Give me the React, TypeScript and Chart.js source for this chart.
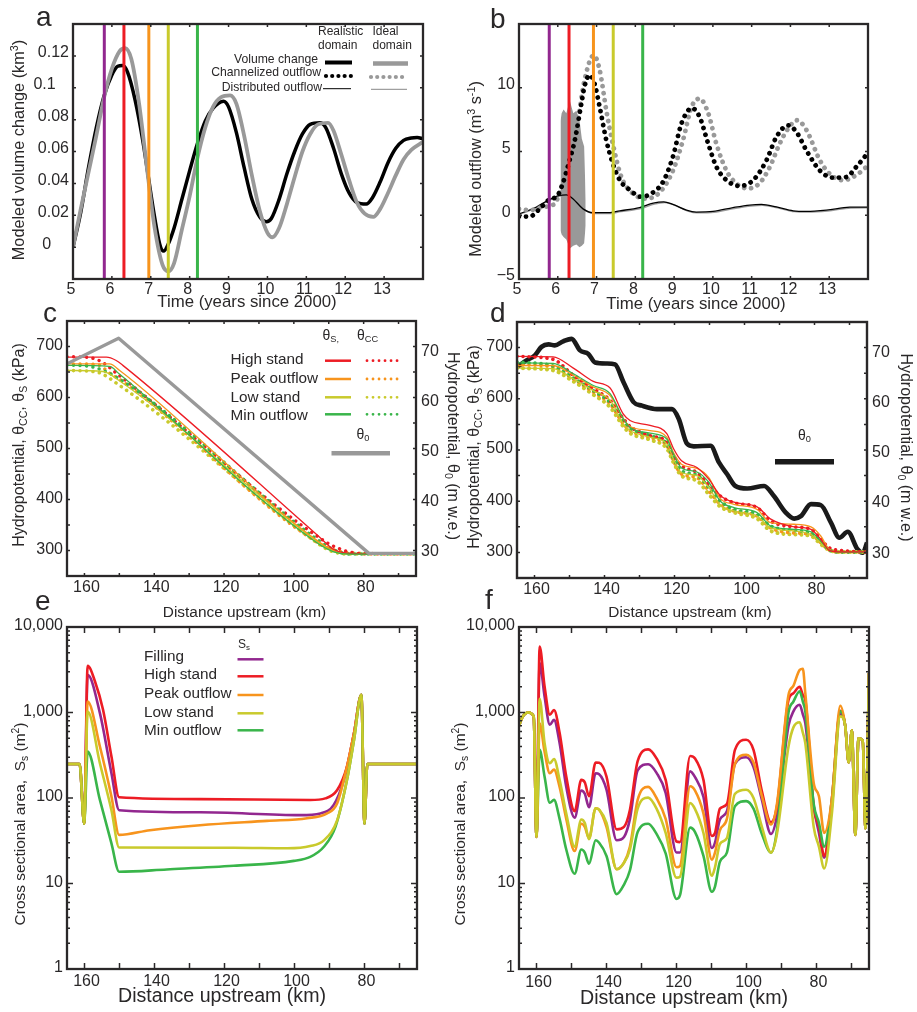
import { useEffect, useRef } from 'react'
import { Chart, registerables } from 'chart.js'

Chart.register(...registerables)

const FONT = "'Liberation Sans', Arial, sans-serif"
const INK = '#2a2829'
const PURPLE = '#92278f'
const RED = '#ed1c24'
const ORANGE = '#f7941d'
const YELLOW = '#c9ca2c'
const GREEN = '#39b54a'
const GREY = '#999999'

type Pt = [number, number]
type Part = { t: string; sub?: boolean; sup?: boolean }

// panel a: modeled volume change (km3) over time
const volRealistic: Pt[] = [[5, 0], [5.2, 0.022], [5.4, 0.05], [5.6, 0.075], [5.8, 0.095], [6, 0.108], [6.15, 0.1135], [6.27, 0.114], [6.4, 0.11], [6.6, 0.092], [6.8, 0.066], [7.07, 0.023], [7.24, 0.001], [7.33, -0.0025], [7.45, 0.002], [7.6, 0.012], [7.8, 0.03], [8, 0.048], [8.2, 0.065], [8.4, 0.079], [8.6, 0.087], [8.87, 0.0915], [9, 0.088], [9.2, 0.072], [9.4, 0.05], [9.6, 0.03], [9.8, 0.019], [9.97, 0.016], [10.1, 0.018], [10.3, 0.03], [10.5, 0.046], [10.7, 0.06], [10.9, 0.071], [11.1, 0.077], [11.35, 0.078], [11.5, 0.075], [11.7, 0.062], [11.9, 0.046], [12.1, 0.034], [12.3, 0.028], [12.54, 0.027], [12.7, 0.031], [12.9, 0.041], [13.1, 0.053], [13.3, 0.062], [13.5, 0.067], [13.7, 0.0685], [13.85, 0.0688], [14, 0.068]]
const volIdeal: Pt[] = [[5, 0], [5.2, 0.024], [5.4, 0.047], [5.6, 0.07], [5.8, 0.094], [6, 0.112], [6.2, 0.123], [6.34, 0.1248], [6.5, 0.118], [6.7, 0.09], [6.9, 0.05], [7.1, 0.012], [7.3, -0.011], [7.45, -0.0152], [7.6, -0.01], [7.8, 0.011], [8, 0.032], [8.2, 0.056], [8.4, 0.075], [8.6, 0.088], [8.8, 0.094], [9.04, 0.0952], [9.2, 0.09], [9.4, 0.07], [9.6, 0.045], [9.8, 0.023], [10, 0.009], [10.13, 0.0062], [10.3, 0.012], [10.5, 0.027], [10.7, 0.044], [10.9, 0.06], [11.1, 0.071], [11.3, 0.077], [11.56, 0.078], [11.7, 0.073], [11.9, 0.058], [12.1, 0.042], [12.3, 0.028], [12.5, 0.021], [12.72, 0.019], [12.9, 0.024], [13.1, 0.034], [13.3, 0.045], [13.5, 0.055], [13.7, 0.061], [14, 0.066]]
const eventTimesA = [5.805, 6.31, 6.95, 7.45, 8.2]
const eventTimesB = [5.78, 6.29, 6.92, 7.43, 8.19]
const eventColors = [PURPLE, RED, ORANGE, YELLOW, GREEN]

// panel b: modeled outflow (m3/s)
const chanRealistic: Pt[] = [[5, -0.1], [5.28, -0.1], [5.53, 0.5], [5.77, 1.2], [6, 1.57], [6.13, 2.5], [6.28, 4.05], [6.44, 5.9], [6.6, 8.6], [6.69, 10.1], [6.82, 11], [6.95, 10.3], [7.08, 8.5], [7.25, 5.9], [7.42, 4.05], [7.6, 2.75], [7.85, 2], [8.15, 1.45], [8.46, 1.8], [8.71, 2.6], [8.97, 4.6], [9.19, 7.2], [9.46, 8.4], [9.66, 7.7], [9.88, 5.6], [10.09, 3.8], [10.35, 2.75], [10.69, 2.3], [11.04, 2.75], [11.38, 4.3], [11.64, 6.15], [11.94, 7.05], [12.15, 6.55], [12.41, 5.1], [12.76, 3.5], [13.1, 2.95], [13.44, 3], [13.7, 3.8], [14, 4.9]]
const chanIdeal: Pt[] = [[5, 0.5], [5.28, 0.4], [5.62, 0.65], [5.92, 0.9], [6.09, 2.2], [6.31, 4.6], [6.48, 6.7], [6.69, 10.6], [6.93, 12.55], [7.08, 11.4], [7.25, 8.25], [7.42, 5.6], [7.64, 3], [7.94, 1.7], [8.28, 1.3], [8.63, 1.8], [8.97, 3.5], [9.23, 5.9], [9.45, 8.5], [9.66, 9.15], [9.88, 8], [10.09, 5.6], [10.35, 3.5], [10.6, 2.5], [10.9, 2.1], [11.2, 2.5], [11.47, 3.8], [11.72, 5.6], [11.94, 6.8], [12.17, 7.45], [12.41, 6.7], [12.76, 4.3], [13.01, 3.25], [13.36, 2.75], [13.7, 3.15], [14, 3.9]]
const distRealistic: Pt[] = [[5, 0.1], [5.45, 0.65], [5.77, 1.2], [6.05, 1.55], [6.22, 1.6], [6.39, 1.3], [6.65, 0.5], [6.91, 0.2], [7.25, 0.2], [7.6, 0.35], [8.11, 0.6], [8.46, 0.95], [8.73, 1.05], [8.97, 0.85], [9.32, 0.4], [9.57, 0.25], [10, 0.3], [10.52, 0.6], [10.95, 0.8], [11.25, 0.85], [11.64, 0.65], [12.07, 0.35], [12.41, 0.3], [12.93, 0.4], [13.53, 0.63], [14, 0.63]]
const distIdeal: Pt[] = [[5, 0.05], [5.45, 0.6], [5.77, 1.15], [6.05, 1.5], [6.25, 1.55], [6.42, 1.25], [6.68, 0.45], [6.94, 0.12], [7.28, 0.12], [7.63, 0.28], [8.14, 0.52], [8.49, 0.88], [8.76, 1], [9, 0.8], [9.35, 0.33], [9.6, 0.18], [10.03, 0.22], [10.55, 0.52], [10.98, 0.72], [11.28, 0.78], [11.67, 0.58], [12.1, 0.28], [12.44, 0.24], [12.96, 0.33], [13.56, 0.57], [14, 0.58]]
const bandTimes = [6.07, 6.1, 6.15, 6.22, 6.31, 6.4, 6.48, 6.56, 6.62, 6.68, 6.72]
const bandUpper = [7.4, 8, 8.3, 8, 9, 8, 8.2, 7.5, 6, 5.4, 1.2]
const bandLower = [-1.2, -1.5, -1.7, -1.9, -2.6, -2.4, -2.3, -2.5, -2.4, -2.2, -0.8]

// panel c: ideal domain hydropotential (kPa, theta0 in m w.e.)
const theta0Ideal: Pt[] = [[165, 67.9], [150.2, 73], [78.5, 30], [65, 30]]
const sHighC: Pt[] = [[165, 679], [153.7, 679], [150.9, 672.5], [149, 663], [92.6, 326], [88.8, 303], [85, 295], [78.5, 293.5], [65, 293.5]]
const sPeakC: Pt[] = [[165, 666], [152.8, 666], [149.9, 653], [92.6, 316], [87.8, 298], [84, 293.5], [65, 293.5]]
const sMinC: Pt[] = [[165, 663], [152.8, 661], [150, 646], [93.6, 316], [88.8, 298], [84, 293], [65, 293]]
const sLowC: Pt[] = [[165, 653], [154.7, 651], [150, 633], [94, 321], [88.8, 298], [84, 293], [65, 293]]
const ccHighC: Pt[] = [[165, 680], [159.5, 679], [155.6, 672], [150, 643], [90.7, 316], [87.8, 306], [84, 297], [79, 293.5], [65, 293.5]]
const ccPeakC: Pt[] = [[165, 666], [156.6, 664.7], [151.8, 643], [150, 636], [92.6, 313], [87.8, 300], [83, 295], [65, 293.5]]
const ccMinC: Pt[] = [[165, 664], [157.5, 659.5], [150.9, 640], [93.6, 323], [88.8, 302], [84, 293], [65, 293]]
const ccLowC: Pt[] = [[165, 653], [156.6, 650], [150, 624], [95.5, 326], [89.7, 300], [84, 293], [65, 293]]

// panel d: realistic domain hydropotential
const theta0Real: Pt[] = [[165, 67.5], [162.3, 68.8], [159.9, 69.8], [158, 71.5], [156, 72], [154.2, 71.8], [151.8, 72.6], [149.4, 73.1], [147, 70.8], [144.6, 70.1], [142.7, 68.4], [139.4, 68.2], [137, 68], [134.6, 64.5], [131.7, 60.5], [129.3, 59.8], [125, 59.1], [120.7, 59.1], [118.8, 57.2], [116.4, 52.2], [114.5, 51.7], [109.7, 51.8], [107.3, 48.5], [105, 46.2], [102.6, 43.8], [99.2, 43.3], [94.4, 43.8], [91.6, 41.8], [88.2, 38.5], [85.8, 37.3], [83.9, 37.8], [81, 40.2], [78.2, 40], [75.3, 36.5], [72.9, 33.5], [70.5, 34.7], [67.7, 31.2], [66.2, 30.5], [65, 32.5]]
const kmD = [165, 154.7, 148.9, 143.2, 138.4, 134.6, 132.7, 127, 122.2, 120.3, 118, 113.6, 110.2, 106.9, 103, 96.4, 92.5, 85.8, 81, 78.2, 75.8, 72.5, 65]
const sHighD = [683, 682, 660, 634, 621, 570, 557.5, 548, 532, 503, 479, 466, 443, 411, 398, 389, 365, 350, 345, 325.5, 304, 301, 301]
const sPeakD = [665, 665, 646, 623, 606.5, 561, 546, 538, 525, 495, 472, 464, 446, 405, 394, 384, 358, 355, 350, 332, 306, 300.6, 300.6]
const sMinD = [670, 669, 649, 626, 610, 561, 544, 533, 521.6, 492, 465, 457, 437, 400, 387.6, 377.8, 351.6, 345, 340, 322, 304.6, 300.6, 300.6]
const sLowD = [660, 659, 639, 616, 597, 551, 538, 525, 512, 482, 456, 450, 427, 392, 381, 371, 348, 342, 335, 319, 304.6, 300.6, 300.6]
const ccHighD = [683, 677, 646, 619.6, 597, 561, 546, 528, 515, 489, 469, 456, 433, 410, 397, 387.6, 361, 350, 345, 325.5, 309, 304, 300.6]
const ccPeakD = [667, 662, 639, 613, 590, 551, 538, 525, 508.5, 479, 453, 446, 420, 394, 381, 371, 348, 338, 335, 319, 304.6, 300.6, 300.6]
const ccMinD = [672, 664, 640.5, 616, 593, 557.5, 542.5, 528, 512, 483.7, 459.5, 451, 426.8, 400.6, 384, 374.5, 351.6, 343, 337, 322, 304.6, 300.6, 300.6]
const ccLowD = [660, 655.5, 634, 608, 583.7, 546, 533, 520, 503, 476, 449.7, 440, 413.7, 389.5, 378, 366, 342, 335, 332, 316, 304.6, 300.6, 300.6]

// panel e: cross sectional area, ideal domain (m2)
const inletE: Pt[] = [[165, 250], [161.4, 250], [160.1, 50]]
const outletE: Pt[] = [[80.9, 1610], [80, 50], [79.2, 250], [65, 250]]
const areaFillE: Pt[] = [[159.1, 2760], [155.6, 982], [152.3, 195], [150.1, 72], [127, 68], [98.3, 63], [92.6, 66], [88.8, 83], [85.9, 163], [83, 573]]
const areaHighE: Pt[] = [[159.1, 3523], [157, 2308], [154.7, 1075], [152.3, 305], [150.1, 102], [127, 97], [95.5, 94.8], [91.2, 99], [87.8, 124], [85, 233], [83, 573]]
const areaPeakE: Pt[] = [[159.1, 1345], [155.6, 400], [152.3, 104], [150.1, 37], [141.3, 42], [127, 48], [107.9, 54], [96.4, 58], [90.7, 66], [87.8, 87], [85, 233], [83, 573]]
const areaLowE: Pt[] = [[159.1, 1027], [155.6, 255], [152.3, 72], [150.1, 26.4], [117.4, 26.2], [102, 25.8], [95.5, 27.4], [91.6, 32], [87.8, 55], [85, 163], [83, 478]]
const areaMinE: Pt[] = [[159.1, 349], [155.6, 95], [152.3, 29.4], [150.1, 13.7], [136.5, 14.6], [117.4, 16.1], [100.2, 18.4], [95.5, 20.5], [91.6, 26.9], [88.3, 46], [85, 163], [83, 478]]

// panel f: cross sectional area, realistic domain (m2)
const kmF = [165, 163.9, 162.4, 160.8, 160, 159.1, 157.7, 156.2, 155, 153.4, 151.5, 149.1, 147.2, 146.2, 145, 143.1, 142.1, 140, 137.1, 135, 133.3, 131.1, 128.1, 125.7, 123.1, 120, 119, 116.1, 114.7, 112.3, 109.9, 109, 107.6, 105.6, 103.3, 100.1, 98, 95.6, 93, 91.3, 88, 86.6, 84.8, 83.9, 83.2, 80.8, 79.3, 77.8, 75.6, 73.2, 71.8, 70.8, 69.9, 68.9, 68, 66.8, 66, 65]
const inletF = [700, 900, 1000, 900, 35]
const outletF = [700, 260, 620, 37, 500, 470, 44, 2900]
const areaHighF = [5900, 2030, 940, 1070, 580, 178, 70, 163, 152, 105, 260, 258, 178, 43, 46, 73, 270, 370, 290, 163, 31, 30.5, 310, 290, 163, 36, 39, 75, 85, 365, 480, 365, 120, 52, 80, 1400, 1680, 2000, 1600, 1400, 80, 46, 21, 97, 1050]
const areaFillF = [3800, 1550, 720, 820, 440, 135, 59, 122, 112, 78, 195, 190, 125, 32, 35, 57, 210, 248, 197, 115, 23, 23, 205, 175, 103, 26, 30, 56, 70, 250, 300, 230, 95, 38, 62, 700, 1030, 1230, 950, 750, 80, 39, 20, 80, 950]
const areaPeakF = [750, 350, 195, 215, 135, 57, 24, 50, 46, 34, 76, 73, 46, 14.7, 17.5, 27, 95, 135, 100, 57, 15.5, 16, 137, 122, 66, 19, 23, 42, 57, 250, 320, 260, 105, 49, 85, 1600, 2050, 3150, 3250, 1680, 150, 105, 39, 97, 1200]
const areaLowF = [1450, 440, 255, 285, 163, 66, 27, 56, 51, 33, 76, 73, 51, 14.7, 17.5, 25, 75, 101, 75, 39, 11.7, 12, 87, 74, 39, 12.3, 15.5, 29, 34, 112, 125, 100, 46, 23, 38, 400, 670, 770, 580, 440, 46, 27, 15, 66, 900]
const areaMinF = [365, 178, 88, 95, 57, 25, 13, 25, 23, 17, 32, 30, 21, 7.5, 9.7, 14.3, 40, 50, 38, 22.5, 6.6, 7.3, 45, 40, 21, 8, 9.2, 18, 23, 80, 92, 75, 38, 23, 42, 1000, 1340, 1770, 1340, 1030, 85, 51, 27, 97, 1030]

// axis ticks and their labels
const timeTicks = [5, 6, 7, 8, 9, 10, 11, 12, 13, 14]
const timeLabels: Record<number, string> = { 5: '5', 6: '6', 7: '7', 8: '8', 9: '9', 10: '10', 11: '11', 12: '12', 13: '13' }
const volTicks = [-0.02, 0, 0.02, 0.04, 0.06, 0.08, 0.1, 0.12, 0.14]
const volLabels: Record<number, string> = { 0: '0    ', 0.02: '0.02', 0.04: '0.04', 0.06: '0.06', 0.08: '0.08', 0.1: '0.1   ', 0.12: '0.12' }
const flowTicks = [-5, 0, 5, 10, 15]
const flowLabels: Record<number, string> = { '-5': '\u22125', 0: '0 ', 5: '5 ', 10: '10' }
const kmTicks = [160, 150, 140, 130, 120, 110, 100, 90, 80, 70]
const kmLabels: Record<number, string> = { 160: '160', 140: '140', 120: '120', 100: '100', 80: '80' }
const kpaTicks = [300, 350, 400, 450, 500, 550, 600, 650, 700]
const kpaLabels: Record<number, string> = { 300: '300', 400: '400', 500: '500', 600: '600', 700: '700' }
const mweTicks = [30, 40, 50, 60, 70]
const areaTicks = [1, 2, 3, 4, 5, 6, 7, 8, 9, 10, 20, 30, 40, 50, 60, 70, 80, 90, 100, 200, 300, 400, 500, 600, 700, 800, 900, 1000, 2000, 3000, 4000, 5000, 6000, 7000, 8000, 9000, 10000]
const areaLabels: Record<number, string> = { 1: '1', 10: '10', 100: '100', 1000: '1,000', 10000: '10,000' }

const pairs = (xs: number[], ys: number[]): Pt[] => ys.map((y, i) => [xs[i], y])

const solid = (data: Pt[], color: string, width: number, extra = {}) => ({
  data, borderColor: color, borderWidth: width, showLine: true, pointRadius: 0,
  cubicInterpolationMode: 'monotone', borderJoinStyle: 'round', ...extra,
})
const dotted = (data: Pt[], color: string, width: number, gap: number) =>
  solid(data, color, width, { borderDash: [0.01, gap], borderCapStyle: 'round' })
const eventLines = (times: number[], lo: number, hi: number) =>
  times.map((t, i) => solid([[t, lo], [t, hi]], eventColors[i], 3, { cubicInterpolationMode: 'default' }))

interface Note { parts: string | Part[]; x: number; y: number; size: number; rot?: number; align?: CanvasTextAlign; base?: CanvasTextBaseline }
interface Swatch { x1: number; x2: number; y: number; color: string; width: number; dots?: number }

function drawNote(ctx: CanvasRenderingContext2D, n: Note) {
  const parts: Part[] = typeof n.parts === 'string' ? [{ t: n.parts }] : n.parts
  const fontOf = (p: Part) => `${p.sub || p.sup ? n.size * 0.66 : n.size}px ${FONT}`
  let total = 0
  parts.forEach((p) => { ctx.font = fontOf(p); total += ctx.measureText(p.t).width })
  ctx.save()
  ctx.translate(n.x, n.y)
  if (n.rot) ctx.rotate(n.rot)
  ctx.fillStyle = INK
  ctx.textAlign = 'left'
  ctx.textBaseline = n.base ?? 'middle'
  let cur = n.align === 'left' ? 0 : n.align === 'right' ? -total : -total / 2
  parts.forEach((p) => {
    ctx.font = fontOf(p)
    const dy = p.sub ? n.size * 0.24 : p.sup ? -n.size * 0.3 : 0
    ctx.fillText(p.t, cur, dy)
    cur += ctx.measureText(p.t).width
  })
  ctx.restore()
}

interface PanelDef {
  box: [number, number, number, number]
  x: { min: number; max: number; reverse?: boolean; ticks: number[]; labels: Record<number, string>; offset: number; pad: number }
  y: { type?: string; min: number; max: number; ticks: number[]; labels: Record<number, string>; offset: number }
  y2?: boolean
  tickLen: number
  frame: number
  datasets: any[] // listed in paint order, first one at the bottom
  notes: Note[]
  swatches: Swatch[]
}

const tickFont = { size: 16, family: FONT, lineHeight: 1 }
const UP = -Math.PI / 2
const DOWN = Math.PI / 2

function buildConfig(p: PanelDef) {
  const [L, T, R, B] = p.box
  const n = p.datasets.length
  const boxPlugin = {
    id: 'panelDress',
    afterDatasetsDraw(chart: any) {
      const { ctx, chartArea: a, scales } = chart
      ctx.save()
      ctx.strokeStyle = INK
      ctx.lineWidth = 1.5
      ctx.beginPath()
      scales.x.ticks.forEach((t: any) => {
        const px = scales.x.getPixelForValue(t.value)
        ctx.moveTo(px, a.bottom); ctx.lineTo(px, a.bottom - p.tickLen)
        ctx.moveTo(px, a.top); ctx.lineTo(px, a.top + p.tickLen)
      })
      scales.y.ticks.forEach((t: any) => {
        const py = scales.y.getPixelForValue(t.value)
        const major = p.y.type !== 'logarithmic' || Number.isInteger(Math.log10(t.value))
        const len = major ? p.tickLen : p.tickLen / 2
        ctx.moveTo(a.left, py); ctx.lineTo(a.left + len, py)
        ctx.moveTo(a.right, py); ctx.lineTo(a.right - len, py)
      })
      ctx.stroke()
      ctx.lineWidth = p.frame
      ctx.strokeRect(a.left, a.top, a.right - a.left, a.bottom - a.top)
      p.swatches.forEach((s) => {
        ctx.beginPath()
        ctx.strokeStyle = s.color
        ctx.lineWidth = s.width
        ctx.lineCap = s.dots ? 'round' : 'butt'
        ctx.setLineDash(s.dots ? [0.01, s.dots] : [])
        ctx.moveTo(s.x1, s.y); ctx.lineTo(s.x2, s.y)
        ctx.stroke()
      })
      ctx.restore()
      p.notes.forEach((note) => drawNote(ctx, note))
    },
  }
  const scales: any = {
    x: {
      type: 'linear', min: p.x.min, max: p.x.max, reverse: p.x.reverse,
      grid: { display: false, drawTicks: false }, border: { display: false },
      afterBuildTicks: (s: any) => { s.ticks = p.x.ticks.map((value) => ({ value })) },
      afterFit: (s: any) => { s.height = 30 },
      ticks: {
        color: INK, font: tickFont, padding: p.x.pad, labelOffset: p.x.offset,
        autoSkip: false, maxRotation: 0, minRotation: 0,
        callback: (v: number) => p.x.labels[v] ?? '',
      },
    },
    y: {
      type: p.y.type ?? 'linear', min: p.y.min, max: p.y.max,
      grid: { display: false, drawTicks: false }, border: { display: false },
      afterBuildTicks: (s: any) => { s.ticks = p.y.ticks.map((value) => ({ value })) },
      afterFit: (s: any) => { s.width = 60 },
      ticks: {
        color: INK, font: tickFont, padding: 4, labelOffset: p.y.offset, autoSkip: false,
        callback: (v: number) => p.y.labels[v] ?? '',
      },
    },
  }
  if (p.y2) {
    scales.y2 = {
      type: 'linear', position: 'right', min: 250 / 9.81, max: 750 / 9.81,
      grid: { display: false, drawTicks: false }, border: { display: false },
      afterBuildTicks: (s: any) => { s.ticks = mweTicks.map((value) => ({ value })) },
      afterFit: (s: any) => { s.width = 40 },
      ticks: { color: INK, font: tickFont, padding: 5, labelOffset: -2, autoSkip: false, callback: (v: number) => String(v) },
    }
  }
  return {
    type: 'scatter',
    data: { datasets: p.datasets.map((d, i) => ({ ...d, order: n - i })) },
    options: {
      animation: false, responsive: false, events: [],
      layout: { padding: { left: L - 60, top: T, right: 917 - R - (p.y2 ? 40 : 0), bottom: 1012 - B - 30 } },
      plugins: { legend: { display: false }, tooltip: { enabled: false } },
      scales,
    },
    plugins: [boxPlugin],
  }
}

const band = (ys: number[], fill: any) => ({
  data: pairs(bandTimes, ys), showLine: true, pointRadius: 0, borderWidth: 0,
  borderColor: GREY, backgroundColor: GREY, fill,
})

const panelA: PanelDef = {
  box: [73, 24, 423, 279],
  x: { min: 5, max: 14, ticks: timeTicks, labels: timeLabels, offset: -2, pad: 3 },
  y: { min: -0.02, max: 0.14, ticks: volTicks, labels: volLabels, offset: -3 },
  tickLen: 3, frame: 2.3,
  datasets: [
    solid(volRealistic, '#000000', 3.5),
    solid(volIdeal, GREY, 3.8),
    ...eventLines(eventTimesA, -0.02, 0.14),
  ],
  notes: [
    { parts: 'a', x: 36, y: 26, size: 28, align: 'left', base: 'alphabetic' },
    { parts: [{ t: 'Modeled volume change (km' }, { t: '3', sup: true }, { t: ')' }], x: 20, y: 150, size: 16.3, rot: UP },
    { parts: 'Time (years since 2000)', x: 247, y: 302, size: 16.8 },
    { parts: 'Realistic', x: 318, y: 32, size: 12, align: 'left' },
    { parts: 'domain', x: 318, y: 46, size: 12, align: 'left' },
    { parts: 'Ideal', x: 372.5, y: 32, size: 12, align: 'left' },
    { parts: 'domain', x: 372.5, y: 46, size: 12, align: 'left' },
    { parts: 'Volume change', x: 318, y: 60, size: 12.2, align: 'right' },
    { parts: 'Channelized outflow', x: 321, y: 73, size: 12.2, align: 'right' },
    { parts: 'Distributed outflow', x: 322, y: 88, size: 12.2, align: 'right' },
  ],
  swatches: [
    { x1: 325, x2: 352, y: 62.5, color: '#000000', width: 4 },
    { x1: 373, x2: 408, y: 63.5, color: GREY, width: 4.5 },
    { x1: 326, x2: 351, y: 76, color: '#000000', width: 4.2, dots: 6.2 },
    { x1: 371, x2: 403, y: 77, color: GREY, width: 4.2, dots: 6.2 },
    { x1: 323, x2: 351, y: 88.7, color: '#000000', width: 1 },
    { x1: 371, x2: 407, y: 89.3, color: '#888888', width: 1 },
  ],
}

const panelB: PanelDef = {
  box: [519, 24, 868, 279],
  x: { min: 5, max: 14, ticks: timeTicks, labels: timeLabels, offset: -2, pad: 3 },
  y: { min: -5, max: 15, ticks: flowTicks, labels: flowLabels, offset: -3 },
  tickLen: 3, frame: 2.3,
  datasets: [
    band(bandLower, false),
    band(bandUpper, '-1'),
    solid(distIdeal, GREY, 1.3),
    solid(distRealistic, '#000000', 1.3),
    dotted(chanIdeal, GREY, 4.8, 7),
    dotted(chanRealistic, '#000000', 4.8, 7),
    ...eventLines(eventTimesB, -5, 15),
  ],
  notes: [
    { parts: 'b', x: 490, y: 28, size: 28, align: 'left', base: 'alphabetic' },
    { parts: [{ t: 'Modeled outflow (m' }, { t: '3', sup: true }, { t: ' s' }, { t: '-1', sup: true }, { t: ')' }], x: 477, y: 169, size: 16.3, rot: UP },
    { parts: 'Time (years since 2000)', x: 696, y: 304, size: 16.8 },
  ],
  swatches: [],
}

const thetaTitle: Part[] = [{ t: 'Hydropotential, \u03b8' }, { t: 'CC', sub: true }, { t: ', \u03b8' }, { t: 'S', sub: true }, { t: ' (kPa)' }]
const theta0Title: Part[] = [{ t: 'Hydropotential, \u03b8' }, { t: '0', sub: true }, { t: ' (m w.e.)' }]

const panelC: PanelDef = {
  box: [67, 321, 416, 576],
  x: { min: 65, max: 165, reverse: true, ticks: kmTicks, labels: kmLabels, offset: 2, pad: 4 },
  y: { min: 250, max: 750, ticks: kpaTicks, labels: kpaLabels, offset: -1 },
  y2: true, tickLen: 3, frame: 2.3,
  datasets: [
    dotted(ccLowC, YELLOW, 3.6, 6.5),
    dotted(ccPeakC, ORANGE, 3.4, 6.5),
    dotted(ccHighC, RED, 3.4, 6.5),
    dotted(ccMinC, GREEN, 3.4, 6.5),
    solid(sLowC, YELLOW, 1.3),
    solid(sPeakC, ORANGE, 1.3),
    solid(sHighC, RED, 1.3),
    solid(sMinC, GREEN, 1.3),
    solid(theta0Ideal, GREY, 3.4, { cubicInterpolationMode: 'default', yAxisID: 'y2' }),
  ],
  notes: [
    { parts: 'c', x: 43, y: 322, size: 28, align: 'left', base: 'alphabetic' },
    { parts: thetaTitle, x: 20, y: 445, size: 16, rot: UP },
    { parts: theta0Title, x: 452, y: 446, size: 16, rot: DOWN },
    { parts: 'Distance upstream (km)', x: 244.5, y: 612.5, size: 15.4 },
    { parts: [{ t: '\u03b8' }, { t: 'S,', sub: true }], x: 322.5, y: 336, size: 14, align: 'left' },
    { parts: [{ t: '\u03b8' }, { t: 'CC', sub: true }], x: 357, y: 336, size: 14, align: 'left' },
    { parts: 'High stand', x: 230.5, y: 360, size: 15.3, align: 'left' },
    { parts: 'Peak outflow', x: 230.5, y: 378.5, size: 15.3, align: 'left' },
    { parts: 'Low stand', x: 230.5, y: 397.5, size: 15.3, align: 'left' },
    { parts: 'Min outflow', x: 230.5, y: 415.5, size: 15.3, align: 'left' },
    { parts: [{ t: '\u03b8' }, { t: '0', sub: true }], x: 356.5, y: 435, size: 14, align: 'left' },
  ],
  swatches: [
    { x1: 325, x2: 351, y: 360.7, color: RED, width: 2.5 },
    { x1: 325, x2: 351, y: 379, color: ORANGE, width: 2.5 },
    { x1: 325, x2: 351, y: 397.3, color: YELLOW, width: 2.5 },
    { x1: 325, x2: 351, y: 414.3, color: GREEN, width: 2.5 },
    { x1: 367, x2: 398, y: 360.7, color: RED, width: 2.8, dots: 6 },
    { x1: 367, x2: 398, y: 379, color: ORANGE, width: 2.8, dots: 6 },
    { x1: 367, x2: 398, y: 397.3, color: YELLOW, width: 2.8, dots: 6 },
    { x1: 367, x2: 398, y: 414.3, color: GREEN, width: 2.8, dots: 6 },
    { x1: 331.5, x2: 390, y: 453.3, color: GREY, width: 4.5 },
  ],
}

const panelD: PanelDef = {
  box: [517, 322, 867, 578],
  x: { min: 65, max: 165, reverse: true, ticks: kmTicks, labels: kmLabels, offset: 2, pad: 4 },
  y: { min: 250, max: 750, ticks: kpaTicks, labels: kpaLabels, offset: -1 },
  y2: true, tickLen: 3, frame: 2.4,
  datasets: [
    solid(theta0Real, '#1a1a1a', 4.6, { yAxisID: 'y2' }),
    dotted(pairs(kmD, ccLowD), YELLOW, 4, 6),
    dotted(pairs(kmD, ccPeakD), ORANGE, 3.6, 6),
    dotted(pairs(kmD, ccMinD), GREEN, 3.6, 6),
    dotted(pairs(kmD, ccHighD), RED, 3.6, 6),
    solid(pairs(kmD, sLowD), YELLOW, 1.3),
    solid(pairs(kmD, sPeakD), ORANGE, 1.3),
    solid(pairs(kmD, sMinD), GREEN, 1.3),
    solid(pairs(kmD, sHighD), RED, 1.3),
  ],
  notes: [
    { parts: 'd', x: 490, y: 322, size: 28, align: 'left', base: 'alphabetic' },
    { parts: thetaTitle, x: 475, y: 447, size: 16, rot: UP },
    { parts: theta0Title, x: 905, y: 447.5, size: 16, rot: DOWN },
    { parts: 'Distance upstream (km)', x: 690, y: 612.5, size: 15.4 },
    { parts: [{ t: '\u03b8' }, { t: '0', sub: true }], x: 798, y: 436.5, size: 14, align: 'left' },
  ],
  swatches: [{ x1: 775, x2: 834, y: 461.7, color: '#1a1a1a', width: 5.5 }],
}

const areaTitle: Part[] = [{ t: 'Cross sectional area,  S' }, { t: 's', sub: true }, { t: ' (m' }, { t: '2', sup: true }, { t: ')' }]
const tail = (pts: Pt[]) => [...inletE, ...pts, ...outletE]

const panelE: PanelDef = {
  box: [67, 627, 417, 969],
  x: { min: 65, max: 165, reverse: true, ticks: kmTicks, labels: kmLabels, offset: 2, pad: 5 },
  y: { type: 'logarithmic', min: 1, max: 10000, ticks: areaTicks, labels: areaLabels, offset: -1 },
  tickLen: 6, frame: 2.3,
  datasets: [
    solid(tail(areaFillE), PURPLE, 2.6),
    solid(tail(areaHighE), RED, 2.6),
    solid(tail(areaPeakE), ORANGE, 2.6),
    solid(tail(areaMinE), GREEN, 2.6),
    solid(tail(areaLowE), YELLOW, 2.6),
  ],
  notes: [
    { parts: 'e', x: 35, y: 610, size: 28, align: 'left', base: 'alphabetic' },
    { parts: areaTitle, x: 21, y: 824, size: 15.5, rot: UP },
    { parts: 'Distance upstream (km)', x: 222, y: 996.5, size: 19.6 },
    { parts: [{ t: 'S' }, { t: 's', sub: true }], x: 238, y: 645, size: 12, align: 'left' },
    { parts: 'Filling', x: 144, y: 656.5, size: 15.3, align: 'left' },
    { parts: 'High stand', x: 144, y: 675, size: 15.3, align: 'left' },
    { parts: 'Peak outflow', x: 144, y: 694, size: 15.3, align: 'left' },
    { parts: 'Low stand', x: 144, y: 712.5, size: 15.3, align: 'left' },
    { parts: 'Min outflow', x: 144, y: 731, size: 15.3, align: 'left' },
  ],
  swatches: [
    { x1: 237.5, x2: 263.5, y: 659.3, color: PURPLE, width: 2.5 },
    { x1: 237.5, x2: 263.5, y: 676.3, color: RED, width: 2.5 },
    { x1: 237.5, x2: 263.5, y: 695, color: ORANGE, width: 2.5 },
    { x1: 237.5, x2: 263.5, y: 713.3, color: YELLOW, width: 2.5 },
    { x1: 237.5, x2: 263.5, y: 730.3, color: GREEN, width: 2.5 },
  ],
}

const fullF = (main: number[]) => pairs(kmF, [...inletF, ...main, ...outletF])

const panelF: PanelDef = {
  box: [519, 627, 869, 969],
  x: { min: 65, max: 165, reverse: true, ticks: kmTicks, labels: kmLabels, offset: 2, pad: 6 },
  y: { type: 'logarithmic', min: 1, max: 10000, ticks: areaTicks, labels: areaLabels, offset: -1 },
  tickLen: 6, frame: 2.3,
  datasets: [
    solid(fullF(areaFillF), PURPLE, 2.6),
    solid(fullF(areaHighF), RED, 2.6),
    solid(fullF(areaMinF), GREEN, 2.6),
    solid(fullF(areaPeakF), ORANGE, 2.6),
    solid(fullF(areaLowF), YELLOW, 2.6),
  ],
  notes: [
    { parts: 'f', x: 485, y: 609, size: 28, align: 'left', base: 'alphabetic' },
    { parts: areaTitle, x: 461, y: 824, size: 15.5, rot: UP },
    { parts: 'Distance upstream (km)', x: 684, y: 999, size: 19.6 },
  ],
  swatches: [],
}

const panels = [panelA, panelB, panelC, panelD, panelE, panelF]

function Panel({ def }: { def: PanelDef }) {
  const canvasRef = useRef<HTMLCanvasElement>(null)
  useEffect(() => {
    if (!canvasRef.current) return
    const chart = new Chart(canvasRef.current, buildConfig(def) as any)
    return () => chart.destroy()
  }, [def])
  return <canvas ref={canvasRef} width={917} height={1012} style={{ position: 'absolute', left: 0, top: 0 }} />
}

export default function App() {
  return (
    <div style={{ position: 'absolute', left: 0, top: 0, width: 917, height: 1012, background: '#fff', overflow: 'hidden' }}>
      {panels.map((def, i) => <Panel key={i} def={def} />)}
    </div>
  )
}
